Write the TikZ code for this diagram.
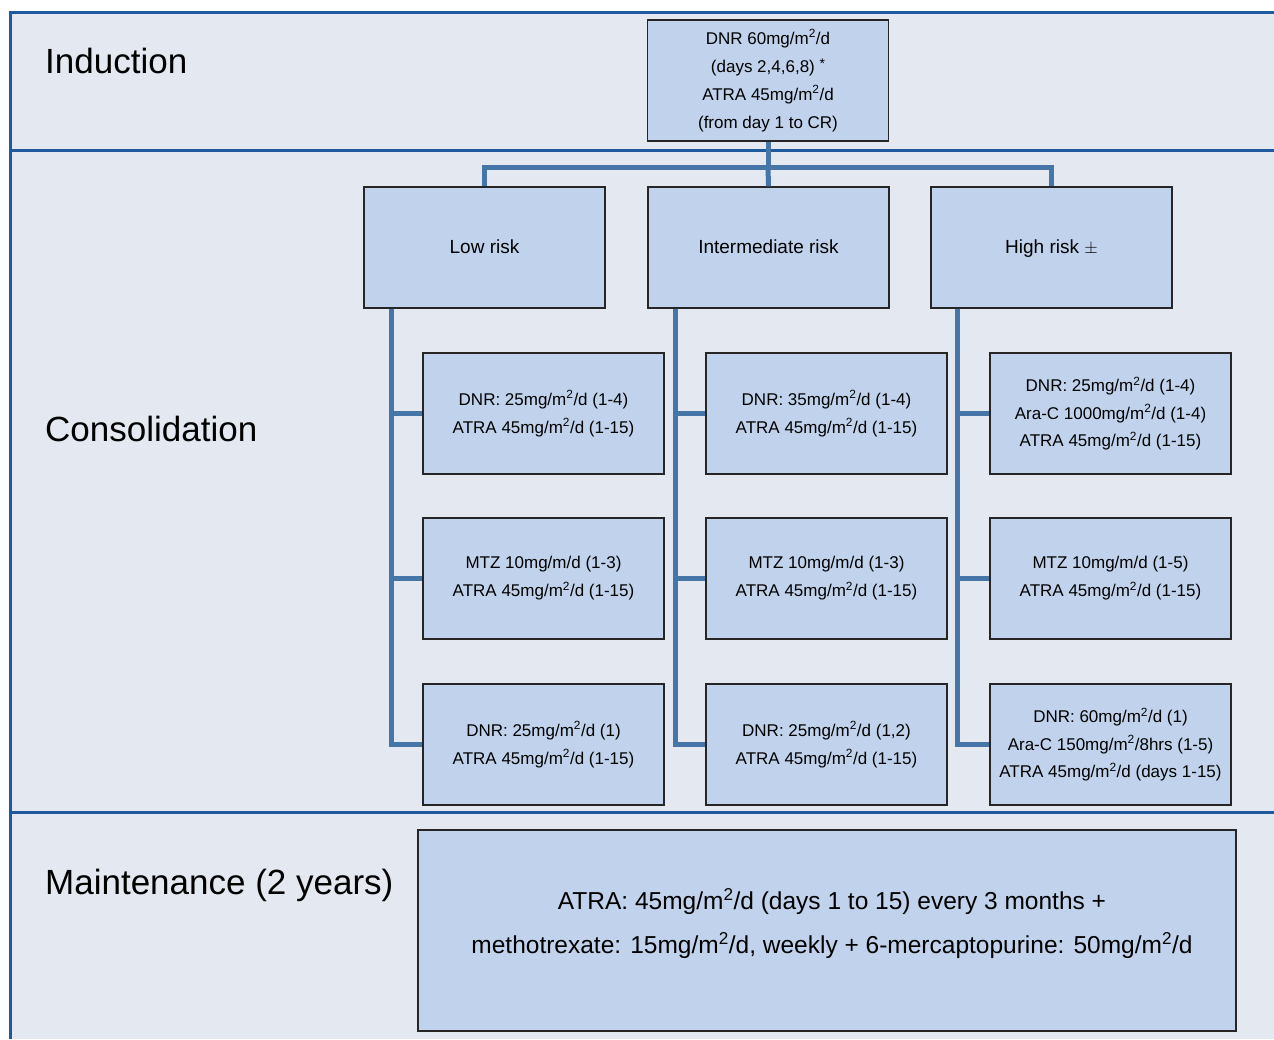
\documentclass[tikz,border=0pt]{standalone}
\usepackage{fontspec}
\setmainfont{Liberation Sans}
\definecolor{bgc}{HTML}{E4E8F0}
\definecolor{boxc}{HTML}{C1D3EC}
\definecolor{framec}{HTML}{1F5A9E}
\definecolor{linkc}{HTML}{4676A8}
\newcommand\msq{m\textsuperscript{2}}
\newcommand\astmark{\raisebox{4pt}{\fontsize{14}{14}\selectfont *}}
\tikzset{
  box/.style={draw=black!85, line width=1.3pt, fill=boxc, minimum width=241pt, minimum height=121pt,
    inner sep=0pt, align=center, font=\fontsize{17}{28}\selectfont},
  riskbox/.style={box, font=\fontsize{19}{22}\selectfont, text depth=1.5pt},
  bigbox/.style={box, minimum width=818pt, minimum height=201pt},
  bigtext/.style={align=center, inner sep=0pt, font=\fontsize{24.5}{44}\selectfont},
  phase/.style={anchor=base west, inner sep=0pt, font=\fontsize{35}{42}\selectfont},
  link/.style={draw=linkc, line width=5pt, line join=miter},
  frameline/.style={draw=framec, line width=3pt}
}
\begin{document}
\begin{tikzpicture}[x=1pt, y=-1pt]
\useasboundingbox (0,0) rectangle (1274,1039);
\fill[bgc] (10,12) rectangle (1274,1039);
\draw[frameline] (10,1039) -- (10,12) -- (1274,12);
\draw[frameline] (10,150) -- (1274,150);
\draw[frameline] (10,812) -- (1274,812);

\node[phase] (tind) at (45,73.5) {Induction};
\node[phase] (tcon) at (45,441.5) {Consolidation};
\node[phase] (tmai) at (45,894) {Maintenance (2 years)};

\node[box] (ind) at (768,80.5) {DNR 60mg/\msq/d\\(days 2,4,6,8) \astmark\\ATRA 45mg/\msq/d\\(from day 1 to CR)};

\node[riskbox] (low) at (484.5,247.5) {Low risk};
\node[riskbox] (int) at (768.5,247.5) {Intermediate risk};
\node[riskbox] (high) at (1051.5,247.5) {High risk $\pm$};

\node[box] (l1) at (543.5,413.5) {DNR: 25mg/\msq/d (1-4)\\ATRA 45mg/\msq/d (1-15)};
\node[box] (l2) at (543.5,578.5) {MTZ 10mg/m/d (1-3)\\ATRA 45mg/\msq/d (1-15)};
\node[box] (l3) at (543.5,744.5) {DNR: 25mg/\msq/d (1)\\ATRA 45mg/\msq/d (1-15)};

\node[box] (i1) at (826.5,413.5) {DNR: 35mg/\msq/d (1-4)\\ATRA 45mg/\msq/d (1-15)};
\node[box] (i2) at (826.5,578.5) {MTZ 10mg/m/d (1-3)\\ATRA 45mg/\msq/d (1-15)};
\node[box] (i3) at (826.5,744.5) {DNR: 25mg/\msq/d (1,2)\\ATRA 45mg/\msq/d (1-15)};

\node[box, line width=2pt, font=\fontsize{17}{27.5}\selectfont] (h1) at (1110.5,413.5) {DNR: 25mg/\msq/d (1-4)\\Ara-C 1000mg/\msq/d (1-4)\\ATRA 45mg/\msq/d (1-15)};
\node[box] (h2) at (1110.5,578.5) {MTZ 10mg/m/d (1-5)\\ATRA 45mg/\msq/d (1-15)};
\node[box, font=\fontsize{17}{27.5}\selectfont] (h3) at (1110.5,744.5) {DNR: 60mg/\msq/d (1)\\Ara-C 150mg/\msq/8hrs (1-5)\\ATRA 45mg/\msq/d (days 1-15)};

\node[bigbox] (mai) at (827,930.5) {};
\node[bigtext] (maitext) at (832,924) {ATRA: 45mg/\msq/d (days 1 to 15) every 3 months +\\methotrexate: 15mg/\msq/d, weekly + 6-mercaptopurine: 50mg/\msq/d};

% connectors
\coordinate (j) at (768,167);
\draw[link] (ind.south) -- (j);
\draw[link] (low.north) |- (j) -| (high.north);
\draw[link] (j) -- (int.north);

\draw[link] ([xshift=28pt]low.south west) |- (l3.west);
\draw[link] ([xshift=28pt]low.south west) |- (l1.west);
\draw[link] ([xshift=28pt]low.south west) |- (l2.west);

\draw[link] ([xshift=28pt]int.south west) |- (i3.west);
\draw[link] ([xshift=28pt]int.south west) |- (i1.west);
\draw[link] ([xshift=28pt]int.south west) |- (i2.west);

\draw[link] ([xshift=27pt]high.south west) |- (h3.west);
\draw[link] ([xshift=27pt]high.south west) |- (h1.west);
\draw[link] ([xshift=27pt]high.south west) |- (h2.west);
\end{tikzpicture}
\end{document}
